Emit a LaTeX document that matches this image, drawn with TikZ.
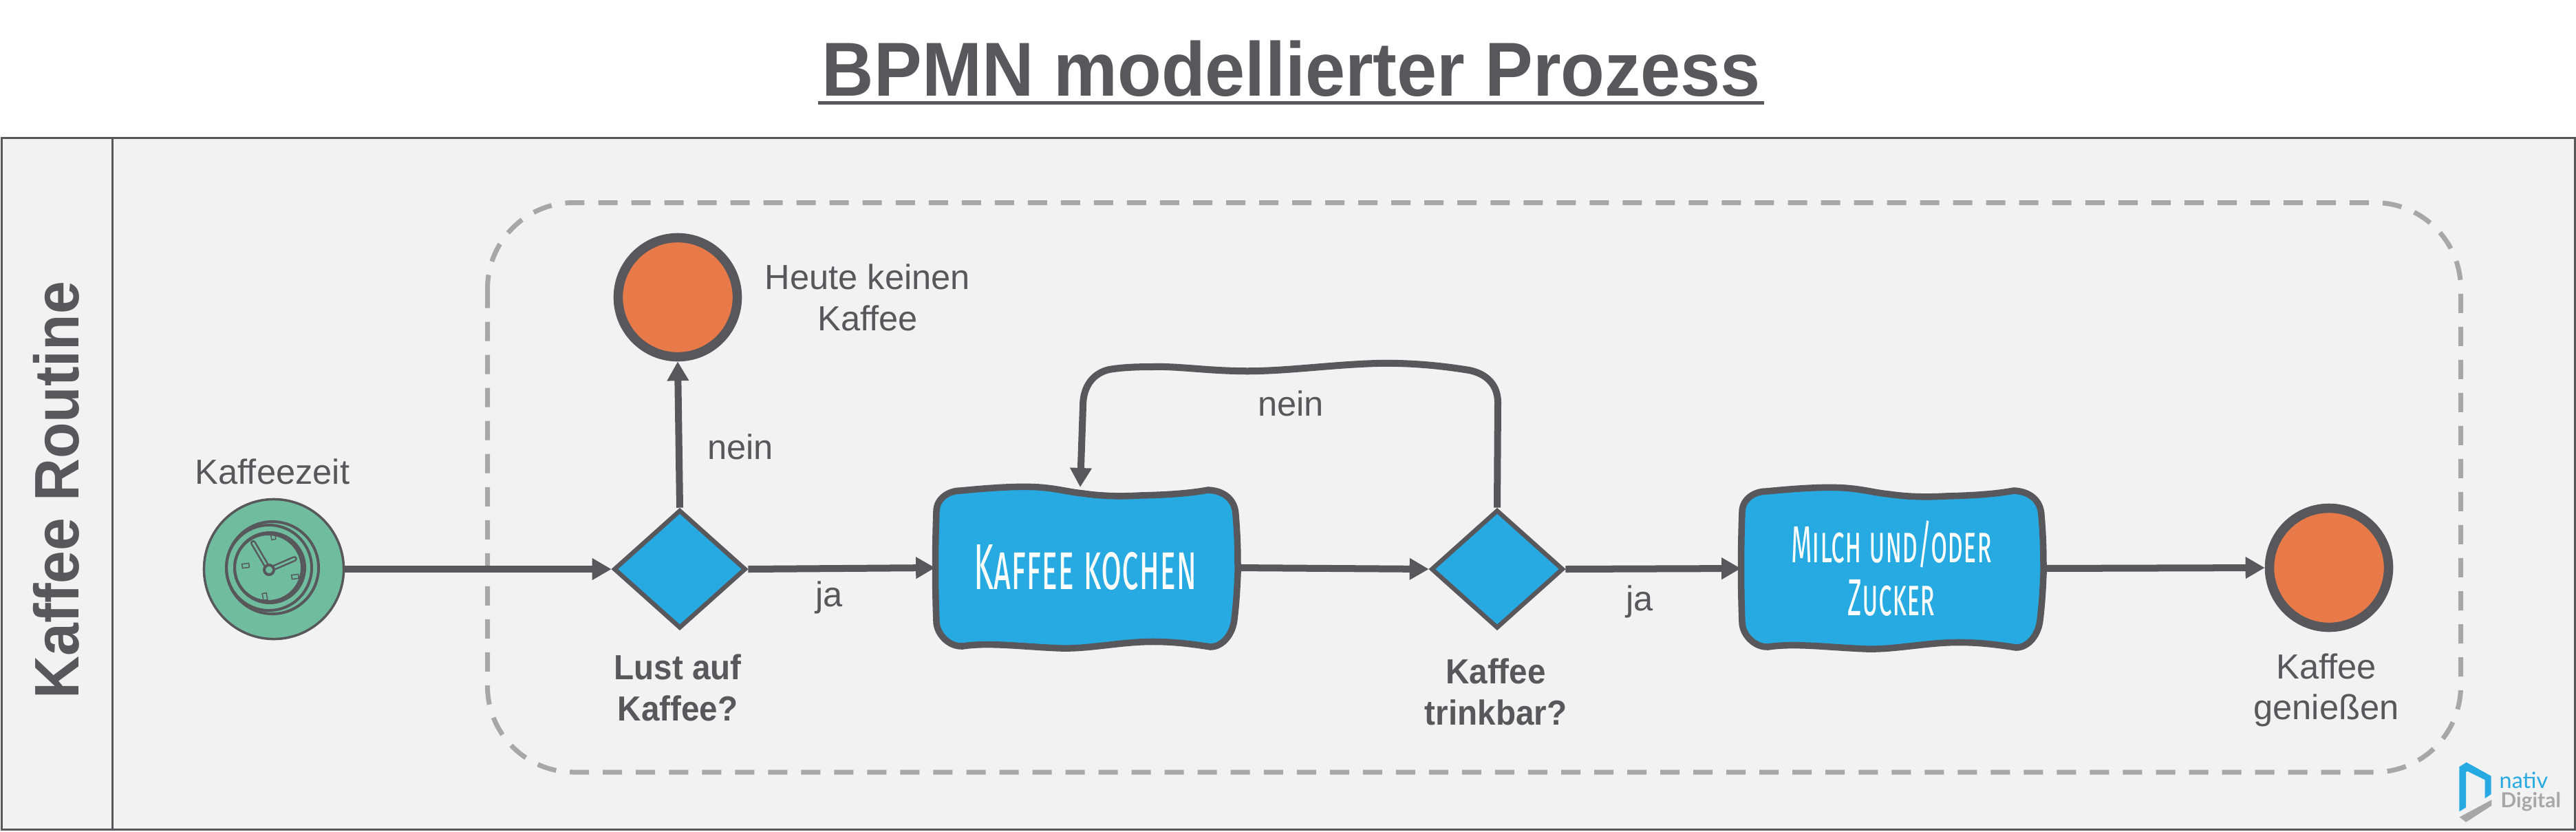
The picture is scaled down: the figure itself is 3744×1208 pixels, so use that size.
\documentclass[tikz,border=0pt]{standalone}
\usepackage{fontspec}
\setmainfont{Liberation Sans}[BoldFeatures={FakeStretch=0.94}]
\newfontfamily\handfont[Letters=SmallCaps,FakeStretch=0.52]{Fira Sans}
\newfontfamily\logofont{Lato}
\usetikzlibrary{shapes.geometric,arrows.meta}
\definecolor{ink}{HTML}{58585C}
\definecolor{lanebg}{HTML}{F2F2F2}
\definecolor{dashgrey}{HTML}{A7A7A7}
\definecolor{taskblue}{HTML}{27AAE1}
\definecolor{endorange}{HTML}{E87A4A}
\definecolor{startgreen}{HTML}{6FBD9E}
\tikzset{
    flow/.style={ink,line width=0.1cm,-{Triangle[length=0.28cm,width=0.3cm]}},
    gateway/.style={diamond,draw=ink,fill=taskblue,line width=0.065cm,minimum width=1.92cm,minimum height=1.72cm,inner sep=0pt},
    endevent/.style={circle,draw=ink,fill=endorange,line width=0.135cm,minimum size=1.73cm,inner sep=0pt},
    startevent/.style={circle,draw=ink,fill=startgreen,line width=0.035cm,minimum size=2.03cm,inner sep=0pt},
    tasknode/.style={minimum width=4.36cm,minimum height=2.3cm,inner sep=0pt,align=center,text=white},
    label/.style={ink,inner sep=0pt,align=center,font=\fontsize{14.4}{17}\selectfont},
    boldlabel/.style={label,font=\fontsize{14.4}{17}\selectfont\bfseries},
    clockline/.style={ink,line width=0.04cm},
    taskbox/.pic={
        \draw[ink,fill=taskblue,line width=0.095cm] (-217,-82) .. controls (-217,-100) and (-200,-112) .. (-182,-112)
            .. controls (-140,-116) and (-100,-119) .. (-68,-117)
            .. controls (-40,-115) and (-25,-110) .. (-4,-108)
            .. controls (30,-103) and (60,-104) .. (79,-105)
            .. controls (120,-106) and (150,-108) .. (178,-113)
            .. controls (200,-112) and (217,-100) .. (218,-77)
            .. controls (221,-40) and (221,-20) .. (221,8)
            .. controls (220,30) and (219,50) .. (216,75)
            .. controls (214,95) and (200,115) .. (181,115)
            .. controls (150,110) and (115,106) .. (79,108)
            .. controls (40,110) and (0,118) .. (-36,117)
            .. controls (-90,115) and (-140,108) .. (-179,114)
            .. controls (-200,115) and (-217,95) .. (-217,78)
            .. controls (-219,30) and (-219,-30) .. (-217,-82) -- cycle;
    },
}
\begin{document}
\begin{tikzpicture}[x=0.01cm,y=-0.01cm]
    \useasboundingbox (0,0) rectangle (3744,1208);
    % lane
    \draw[ink,fill=lanebg,line width=0.03cm] (2.5,200.5) rectangle (3742,1205.5);
    \draw[ink,line width=0.03cm] (163,200.5) -- (163,1205.5);
    \draw[dashgrey,line width=0.07cm,dash pattern=on 0.28cm off 0.2cm,rounded corners=1.25cm] (708.5,294.5) rectangle (3576.5,1122);

    % title
    \node[ink,inner sep=0pt,anchor=base,font=\fontsize{31.6}{36}\selectfont\bfseries] (title) at (1877,139) {BPMN modellierter Prozess};
    \draw[ink,line width=0.05cm] (1189,149.5) -- (2564,149.5);
    \node[ink,inner sep=0pt,rotate=90,font=\fontsize{26}{30}\selectfont\bfseries] (lane) at (82,712) {Kaffee Routine};

    % task boxes go first
    \pic at (1578,825) {taskbox};
    \pic at (2749,826) {taskbox};

    % nodes
    \node[startevent] (zeit) at (398,827) {};
    \node[gateway] (lust) at (988,827) {};
    \node[endevent] (keinen) at (985,432) {};
    \node[tasknode,font=\fontsize{26.8}{30}\handfont] (kochen) at (1578,825) {Kaffee kochen};
    \node[gateway] (trinkbar) at (2176,827) {};
    \node[tasknode,font=\fontsize{21.5}{21.8}\handfont] (milch) at (2749,826) {Milch und/oder\\Zucker};
    \node[endevent] (geniessen) at (3385,825) {};
    \coordinate (kocheneingang) at (1570,708);

    % clock
    \draw[clockline] (396,825) circle (67);
    \draw[clockline] (391,825) circle (62);
    \draw[clockline] (392,825) circle (51);
    \draw[clockline] (390,825) circle (49);
    \draw[ink,line width=0.08cm,line cap=round] (391,828) -- (368,789);
    \draw[startgreen,line width=0.03cm,line cap=round] (391,828) -- (368,789);
    \draw[ink,line width=0.08cm,line cap=round] (391,828) -- (428,812);
    \draw[startgreen,line width=0.03cm,line cap=round] (391,828) -- (428,812);
    \draw[clockline,fill=startgreen] (391,828) circle (7);
    \foreach \tx/\ty/\tr in {397/779/10,357/822/97,429/838/97,385/867/10}
        \draw[ink,line width=0.015cm,shift={(\tx,\ty)},rotate=\tr] (-3,-5) rectangle (3,5);

    % flows
    \draw[flow] (zeit.east) -- (lust.west);
    \draw[flow] (lust.north) -- (keinen.south);
    \draw[flow] (lust.east) -- (kochen.west);
    \draw[flow] (kochen.east) -- (trinkbar.west);
    \draw[flow] (trinkbar.east) -- (milch.west);
    \draw[flow] (milch.east) -- (geniessen.west);
    \draw[flow] (trinkbar.north) -- (2177,585) .. controls (2177,555) and (2155,540) .. (2129,537)
        .. controls (2085,530) and (2040,527) .. (2001,528)
        .. controls (1930,530) and (1860,541) .. (1797,539)
        .. controls (1750,538) and (1710,532) .. (1676,533)
        .. controls (1650,533) and (1630,534) .. (1612,537)
        .. controls (1590,542) and (1574,560) .. (1574,590) -- (kocheneingang);

    % labels
    \node[label] (zeitlabel) at (396,685) {Kaffeezeit};
    \node[label] (keinenlabel) at (1261,432) {Heute keinen\\Kaffee};
    \node[label] (neinlabel) at (1076,649) {nein};
    \node[label] (jalabel) at (1205,868) {ja};
    \node[boldlabel] (lustlabel) at (985,999) {Lust auf\\Kaffee?};
    \node[label] (neinschleife) at (1876,586) {nein};
    \node[label] (jazwei) at (2383,874) {ja};
    \node[boldlabel] (trinkbarlabel) at (2174,1005) {Kaffee\\trinkbar?};
    \node[label] (geniessenlabel) at (3381,1003) {Kaffee\\genießen};

    % logo
    \fill[taskblue] (3574.3,1114.3) -- (3584.7,1107.7) -- (3620.7,1127.7) -- (3620.7,1154) -- (3611.7,1160) -- (3611.7,1133.3) -- (3586.3,1120.7) -- (3584,1121.7) -- (3584,1173.3) -- (3574.3,1179.3) -- cycle;
    \fill[dashgrey] (3574.7,1187.3) -- (3621.3,1162.3) -- (3621.3,1170.7) -- (3584,1194.7) -- cycle;
    \node[taskblue,inner sep=0pt,anchor=base west,font=\fontsize{9.2}{11}\logofont] (nativ) at (3632,1145) {nativ};
    \node[dashgrey,inner sep=0pt,anchor=base west,font=\fontsize{8.5}{11}\logofont\bfseries] (digital) at (3634,1173) {Digital};
\end{tikzpicture}
\end{document}
